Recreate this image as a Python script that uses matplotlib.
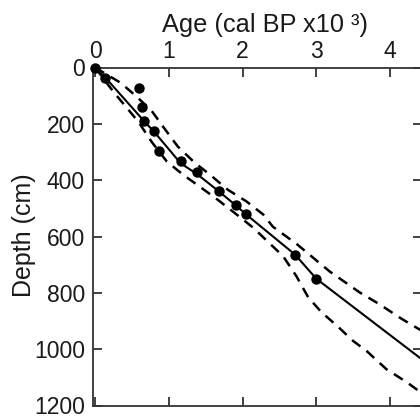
import matplotlib
matplotlib.use("Agg")
import matplotlib.pyplot as plt

plt.rcParams['font.family'] = ['Liberation Sans', 'DejaVu Sans']

# dated samples (age in cal BP x10^3, depth in cm)
sample_age = [0.0, 0.14, 0.60, 0.64, 0.67, 0.80, 0.86, 1.16, 1.38, 1.68, 1.91, 2.05, 2.71, 3.00]
sample_depth = [0, 36, 72, 139, 189, 225, 295, 333, 372, 437, 487, 519, 664, 750]

# age-depth model (solid)
model_age = [0.0, 0.14, 0.67, 0.80, 1.16, 1.38, 1.68, 1.91, 2.05, 2.71, 3.00, 3.59, 4.00, 4.45]
model_depth = [0, 36, 192, 228, 340, 378, 440, 490, 522, 664, 750, 868, 950, 1040]

# confidence envelope: older bound (upper dashed)
upper_age = [0.0, 0.35, 0.57, 0.77, 0.95, 1.12, 1.35, 1.56, 1.80, 2.05, 2.28, 2.41, 2.74,
             3.18, 3.59, 3.86, 4.13, 4.45]
upper_depth = [0, 55, 105, 155, 220, 280, 338, 381, 434, 475, 522, 565, 628,
               724, 799, 841, 888, 938]

# confidence envelope: younger bound (lower dashed)
lower_age = [0.0, 0.26, 0.43, 0.59, 0.77, 0.97, 1.19, 1.44, 1.66, 1.92, 2.14, 2.55, 2.73,
             2.89, 3.07, 3.28, 3.50, 3.68, 3.95, 4.23, 4.45]
lower_depth = [0, 90, 143, 194, 265, 333, 380, 427, 469, 522, 568, 670, 741,
               816, 869, 917, 971, 1006, 1071, 1118, 1160]

x_ticks = [0, 1, 2, 3, 4]
y_ticks = [0, 200, 400, 600, 800, 1000, 1200]

W, H = 420, 418
left_px, right_px, top_px, bottom_px = 92.5, 421.5, 67.5, 405.5
fig = plt.figure(figsize=(W / 100, H / 100), dpi=100)
ax = fig.add_axes([left_px / W, (H - bottom_px) / H,
                   (right_px - left_px) / W, (bottom_px - top_px) / H])

ax.plot(lower_age, lower_depth, color='black', lw=1.8, dashes=(4.2, 3.0))
ax.plot(upper_age, upper_depth, color='black', lw=1.8, dashes=(4.2, 3.0))
ax.plot(model_age, model_depth, color='black', lw=1.5)
ax.plot(sample_age, sample_depth, 'o', color='black', ms=6.5, clip_on=False, zorder=5)

ax.set_xlim(-0.035, 4.426)
ax.set_ylim(1200, 0)
ax.set_xticks(x_ticks)
ax.set_yticks(y_ticks)

spine_col = '#333333'
for s in ax.spines.values():
    s.set_color(spine_col)
    s.set_linewidth(1.3)

ax.tick_params(axis='both', direction='in', length=6.5, width=1.3, color=spine_col,
               labelcolor='#1a1a1a', labelsize=16.5)
ax.tick_params(axis='x', top=True, bottom=True, labeltop=True, labelbottom=False, pad=3.5)
ax.tick_params(axis='y', left=True, right=True, labelleft=True, labelright=False, pad=5.5)

fig.text(265 / W, 1 - 25 / H, 'Age (cal BP x10 \u00b3)', ha='center', va='center',
         fontsize=18.3, color='#1a1a1a')
fig.text(24 / W, 1 - 235 / H, 'Depth (cm)', rotation=90, ha='center', va='center',
         fontsize=18, color='#1a1a1a')

fig.savefig('out.png', dpi=100)
